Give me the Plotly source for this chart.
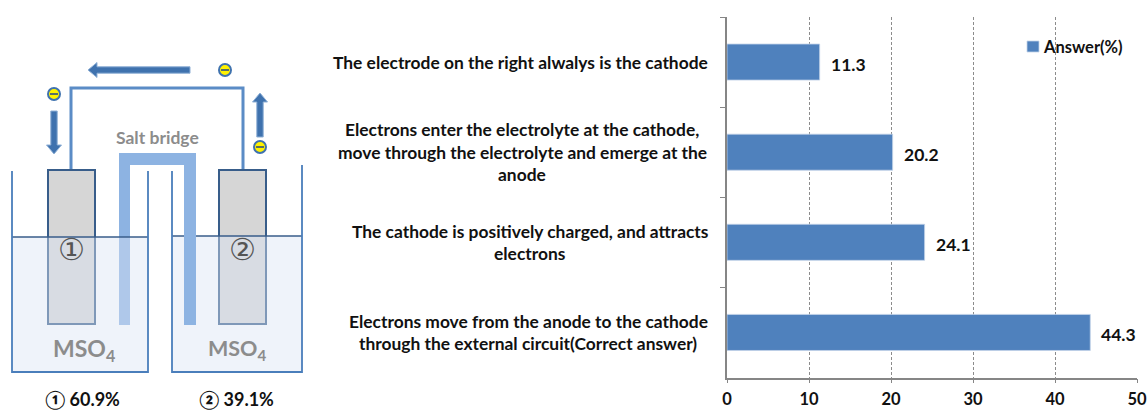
import plotly.graph_objects as go

# Survey results
categories = [
    "The electrode on the right alwalys is the cathode",
    "Electrons enter the electrolyte at the cathode, move through the electrolyte and emerge at the anode",
    "The cathode is positively charged, and attracts electrons",
    "Electrons move from the anode to the cathode through the external circuit(Correct answer)",
]
category_lines = [
    ["The electrode on the right alwalys is the cathode"],
    ["Electrons enter the electrolyte at the cathode,",
     "move through the electrolyte and emerge at the",
     "anode"],
    ["The cathode is positively charged, and attracts",
     "electrons"],
    ["Electrons move from the anode to the cathode",
     "through the external circuit(Correct answer)"],
]
category_centers = [520, 522, 530, 528]
answers = [11.3, 20.2, 24.1, 44.3]
x_ticks = [0, 10, 20, 30, 40, 50]
series_name = "Answer(%)"

# Cell-diagram captions
bridge_label = "Salt bridge"
electrolyte_label = "MSO<sub>4</sub>"
share_labels = ["① 60.9%", "② 39.1%"]

W, H = 1148, 410
FONT = "Lato, 'Noto Sans', sans-serif"
BLUE = "#4f81bd"
TEXT = "#111111"

fig = go.Figure()
fig.add_bar(
    y=categories, x=answers, orientation="h", name=series_name,
    marker=dict(color=BLUE, line=dict(color="#c3d3e8", width=0.8)),
    width=0.4, showlegend=False, xaxis="x", yaxis="y",
)

ann = []
shapes = []


def text(x, y, s, size, color=TEXT, bold=True, xanchor="center", family=FONT):
    ann.append(dict(
        xref="x2", yref="y2", x=x, y=y, text=f"<b>{s}</b>" if bold else s,
        showarrow=False, xanchor=xanchor, yanchor="middle",
        font=dict(family=family, size=size, color=color),
    ))


# Category labels, one annotation per line for the tighter leading
LINE_GAP = 22.5
for cat, lines, cx in zip(categories, category_lines, category_centers):
    for i, line in enumerate(lines):
        offset = (i - (len(lines) - 1) / 2) * LINE_GAP
        ann.append(dict(
            xref="x2", yref="y", x=cx, y=cat, yshift=-offset, text=f"<b>{line}</b>",
            showarrow=False, xanchor="center", yanchor="middle",
            font=dict(family=FONT, size=17.4, color=TEXT),
        ))

# Value labels beside each bar
for cat, v in zip(categories, answers):
    ann.append(dict(
        xref="x", yref="y", x=v, y=cat, xshift=9, yshift=-2, text=f"<b>{v}</b>",
        showarrow=False, xanchor="left", yanchor="middle",
        font=dict(family=FONT, size=17.5, color=TEXT),
    ))


def rect(x0, y0, x1, y1, fill=None, line=None, lw=1.5):
    shapes.append(dict(
        type="rect", xref="x2", yref="y2", x0=x0, y0=y0, x1=x1, y1=y1,
        fillcolor=fill or "rgba(0,0,0,0)",
        line=dict(color=line or "rgba(0,0,0,0)", width=lw if line else 0),
    ))


def path(d, fill=None, line=None, lw=1.5):
    shapes.append(dict(
        type="path", xref="x2", yref="y2", path=d,
        fillcolor=fill or "rgba(0,0,0,0)",
        line=dict(color=line or "rgba(0,0,0,0)", width=lw if line else 0),
    ))


def arrow(x0, y0, x1, y1):
    """Block arrow along an axis, tip at (x1, y1)."""
    shaft, head, head_len = 3.2, 7.5, 9
    if y0 == y1:
        s = 1 if x1 > x0 else -1
        bx = x1 - s * head_len
        d = (f"M{x0},{y0-shaft} L{bx},{y0-shaft} L{bx},{y0-head} L{x1},{y0} "
             f"L{bx},{y0+head} L{bx},{y0+shaft} L{x0},{y0+shaft} Z")
    else:
        s = 1 if y1 > y0 else -1
        by = y1 - s * head_len
        d = (f"M{x0-shaft},{y0} L{x0-shaft},{by} L{x0-head},{by} L{x0},{y1} "
             f"L{x0+head},{by} L{x0+shaft},{by} L{x0+shaft},{y0} Z")
    path(d, fill="#3f72ae", line="#8fb0d6", lw=1)


def electron(cx, cy, r=6):
    shapes.append(dict(
        type="circle", xref="x2", yref="y2", x0=cx - r, y0=cy - r, x1=cx + r, y1=cy + r,
        fillcolor="#fff200", line=dict(color="#3f72ae", width=2),
    ))
    rect(cx - 4, cy - 0.8, cx + 4, cy + 0.8, fill="#2f4f7f")


LIQUID = "rgba(219,227,243,0.44)"
EDGE = "#385d8a"
BRIDGE = "#8db3e2"
BEAKER = "#4a7ebb"

# External wire
path("M71,169 L71,88 L243,88 L243,169", line="#5b8cc6", lw=3)

# Electrodes
rect(48, 170, 95, 324, fill="#d6d6d6", line=EDGE, lw=2)
rect(219, 170, 266, 324, fill="#d6d6d6", line=EDGE, lw=2)

# Salt bridge: left leg and top sit behind the left liquid
rect(119, 153, 130, 325, fill=BRIDGE)
rect(119, 153, 196, 165, fill=BRIDGE)

# Liquid levels
rect(12, 237, 148, 372, fill=LIQUID)
rect(172, 236, 302, 372, fill=LIQUID)
path("M12,237 L148,237", line=EDGE, lw=1.5)
path("M172,236 L302,236", line=EDGE, lw=1.5)

# Right bridge leg stands in front of the right liquid
rect(184, 153, 196, 325, fill=BRIDGE)

# Beaker walls
path("M12,171 L12,372 L148,372 L148,171", line=BEAKER, lw=1.8)
path("M172,171 L172,372 L302,372 L302,165", line=BEAKER, lw=1.8)

# Electron flow arrows
arrow(190, 70, 88, 70)
arrow(54, 111, 54, 154)
arrow(260, 137, 260, 93)
electron(54, 94)
electron(225, 70)
electron(260, 147)

# Diagram captions
text(157, 137, bridge_label, 17.5, color="#8c8c8c")
text(71, 249, "①", 30, color="#555555", bold=False, family="'DejaVu Sans'")
text(242, 249, "②", 30, color="#555555", bold=False, family="'DejaVu Sans'")
text(84, 349, electrolyte_label, 23, color="#8c8c8c")
text(237, 349, electrolyte_label, 21.5, color="#8c8c8c")
text(82, 399, share_labels[0], 18)
text(236, 399, share_labels[1], 18)

# Key for the bar series
rect(1027, 41, 1039, 52, fill=BLUE, line="#c3d3e8", lw=0.8)
text(1041, 47, series_name, 16.5, xanchor="left", bold=True)

AXIS = "#868686"
fig.update_layout(
    width=W, height=H, autosize=False,
    margin=dict(l=0, r=0, t=0, b=0, pad=0, autoexpand=False),
    paper_bgcolor="white", plot_bgcolor="rgba(0,0,0,0)",
    showlegend=False,
    font=dict(family=FONT, color=TEXT),
    bargap=0.6,
    xaxis=dict(
        domain=[727 / W, 1137 / W], range=[0, 50], anchor="y",
        tickvals=x_ticks, ticks="outside", ticklen=4, tickcolor=AXIS,
        showline=True, linecolor=AXIS, linewidth=1.5,
        showgrid=True, gridcolor="#8c8c8c", griddash="3px,2px", gridwidth=1,
        zeroline=False, ticklabelstandoff=2,
        tickfont=dict(family=FONT, size=16.5, color=TEXT, weight="bold"),
    ),
    yaxis=dict(
        domain=[1 - 377.5 / H, 1 - 17 / H], anchor="x",
        type="category", categoryorder="array", categoryarray=categories,
        autorange="reversed", tickson="boundaries",
        ticks="outside", ticklen=5, tickcolor=AXIS,
        showline=True, linecolor=AXIS, linewidth=1.5,
        showticklabels=False, showgrid=False, zeroline=False,
    ),
    xaxis2=dict(domain=[0, 1], range=[0, W], anchor="y2", visible=False, fixedrange=True),
    yaxis2=dict(domain=[0, 1], range=[H, 0], anchor="x2", visible=False, fixedrange=True),
    annotations=ann,
    shapes=shapes,
)

fig.write_html("out.html")
